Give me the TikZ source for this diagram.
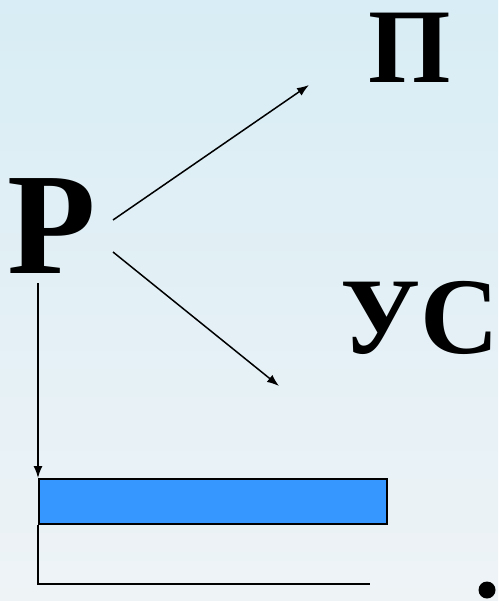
\documentclass[tikz,border=0pt]{standalone}
\usepackage{fontspec}
\setmainfont{Liberation Serif}
\usetikzlibrary{arrows.meta}
\definecolor{bgtop}{RGB}{216,237,245}
\definecolor{bgbot}{RGB}{238,243,246}
\definecolor{barblue}{RGB}{53,151,255}
\tikzset{
  bigletter/.style={font=\bfseries\fontsize{#1}{#1}\selectfont, inner sep=0pt, anchor=base},
  conn/.style={line width=1.5pt, -{Latex[length=12pt,width=9pt]}},
  plain/.style={line width=1.5pt}
}
\begin{document}
\begin{tikzpicture}[x=1pt,y=-1pt]
\shade[top color=bgtop, bottom color=bgbot] (0,0) rectangle (498,601);
\useasboundingbox (0,0) rectangle (498,601);
\node[bigletter=145pt] (R) at (52,273) {Р};
\node[bigletter=106pt] (P) at (410,83) {П};
\node[bigletter=109pt] (US) at (420,353) {УС};
\coordinate (a1s) at (113,220);
\coordinate (a1e) at (309,85);
\coordinate (a2s) at (113,252);
\coordinate (a2e) at (279,386);
\coordinate (vs) at (38,283);
\draw[conn] (a1s) -- (a1e);
\draw[conn] (a2s) -- (a2e);
\node[draw, line width=1.5pt, fill=barblue, minimum width=348pt, minimum height=45pt, inner sep=0pt, anchor=north west] (bar) at (38,478) {};
\draw[conn] (vs) -- (bar.north west);
\coordinate (corner) at (38,584);
\coordinate (lend) at (370,584);
\draw[plain] (bar.south west) -- (corner) -- (lend);
\fill (487,590) circle (8.5pt);
\end{tikzpicture}
\end{document}
